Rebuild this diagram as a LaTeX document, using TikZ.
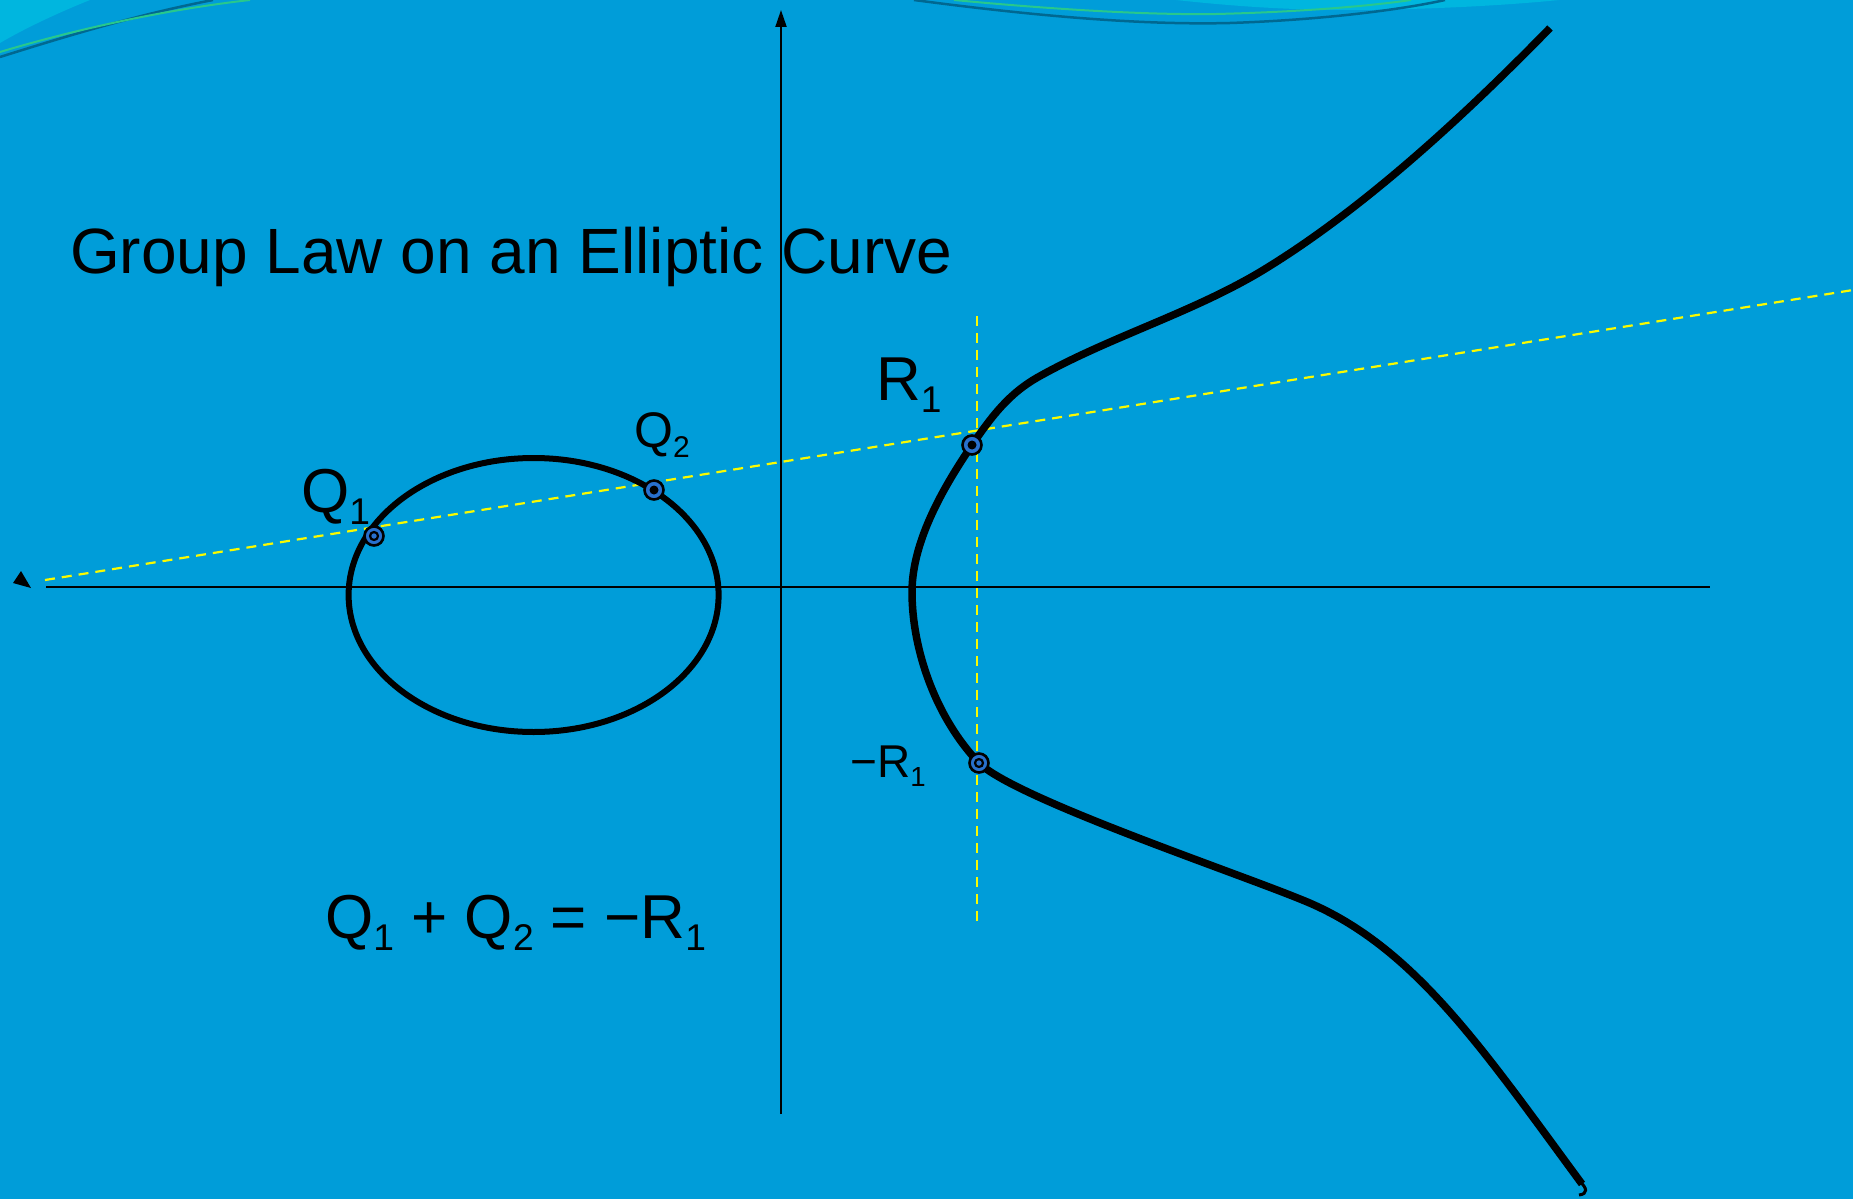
\documentclass[tikz,border=0pt]{standalone}
\usepackage{fontspec}
\setmainfont{Liberation Sans}
\usepackage{graphicx}
\usetikzlibrary{arrows.meta}
\definecolor{bgblue}{RGB}{0,157,217}
\definecolor{lightcyan}{RGB}{0,182,223}
\definecolor{darkteal}{RGB}{0,104,145}
\definecolor{greenline}{RGB}{40,200,140}
\definecolor{dashyellow}{RGB}{250,250,0}
\definecolor{ptblue}{RGB}{40,112,205}
\newcommand{\lsub}[1]{\raisebox{-0.2em}{\scalebox{0.6}{#1}}}
\tikzset{
  axisline/.style={draw=black, line width=2pt},
  curveline/.style={draw=black, line width=7.5pt},
  ovalline/.style={draw=black, line width=6pt},
  helpline/.style={draw=dashyellow, line width=2.2pt, dash pattern=on 10pt off 7pt},
  ptdot/.style={circle, minimum size=19pt, inner sep=0pt, fill=ptblue, draw=black, line width=2.6pt,
    path picture={\fill[black] (path picture bounding box.center) circle (4.5pt);}},
  ptring/.style={circle, minimum size=19pt, inner sep=0pt, fill=ptblue, draw=black, line width=2.6pt,
    path picture={\draw[black, line width=2.2pt] (path picture bounding box.center) circle (4pt);}},
  lbl/.style={anchor=base west, inner sep=0pt, text=black},
}
\begin{document}
\begin{tikzpicture}[x=1pt,y=-1pt]
\useasboundingbox (0,0) rectangle (1853,1199);
\fill[bgblue] (0,0) rectangle (1853,1199);
% top decoration
\fill[lightcyan] (0,0) -- (90,0) .. controls (55,14) and (22,30) .. (0,43) -- cycle;
\draw[darkteal, line width=2.5pt] (0,57) .. controls (70,35) and (140,14) .. (213,0);
\draw[greenline, line width=2pt] (0,52) .. controls (80,28) and (170,9) .. (250,0);
\fill[lightcyan] (1176,0) .. controls (1250,8) and (1300,10) .. (1357,10) .. controls (1450,9) and (1520,4) .. (1559,0) -- cycle;
\draw[darkteal, line width=2.5pt] (914,0) .. controls (1050,18) and (1150,25) .. (1230,23) .. controls (1320,20) and (1400,10) .. (1445,0);
\draw[greenline, line width=2pt] (954,0) .. controls (1060,10) and (1150,15) .. (1216,14) .. controls (1300,12) and (1370,6) .. (1411,0);

% title
\node[lbl, font=\fontsize{64pt}{70pt}\selectfont] (title) at (70,273) {Group Law on an Elliptic Curve};

% axes
\coordinate (yb) at (781,1114);
\coordinate (yt) at (781,10);
\coordinate (xl) at (46,587);
\coordinate (xr) at (1710,587);
\draw[axisline, -{Triangle[length=17pt,width=11pt]}] (yb) -- (yt);
\draw[axisline] (xl) -- (xr);
\fill[black] (13,583) -- (21,571) -- (31,588) -- cycle;

% helper lines
\coordinate (dl) at (45,580);
\coordinate (dr) at (1853,290);
\coordinate (vt) at (977,316);
\coordinate (vb) at (977,925);
\draw[helpline] (dl) -- (dr);
\draw[helpline] (vt) -- (vb);

% oval component
\draw[ovalline] (533.6,595) ellipse [x radius=185, y radius=137];

% right component
\draw[curveline] (1550,28)
  .. controls (1466,114) and (1363,210) .. (1260,272)
  .. controls (1191,313) and (1110,337) .. (1040,376)
  .. controls (1009,393) and (992,416) .. (972,445)
  .. controls (945,485) and (912,540) .. (912,592)
  .. controls (912,650) and (936,718) .. (979,763)
  .. controls (1015,798) and (1226,869) .. (1300,899)
  .. controls (1412,943) and (1481,1047) .. (1582,1184);
\draw[black, line width=3pt] (1578,1180) .. controls (1588,1188) and (1588,1194) .. (1579,1195);

% points
\node[ptring] (Q1) at (374,536) {};
\node[ptdot] (Q2) at (654,490) {};
\node[ptdot] (R1) at (972,445) {};
\node[ptring] (mR1) at (979,763) {};

% labels
\node[lbl, font=\fontsize{62pt}{68pt}\selectfont] (lQ1) at (301,512) {Q\lsub{1}};
\node[lbl, font=\fontsize{50pt}{56pt}\selectfont] (lQ2) at (634,447) {Q\lsub{2}};
\node[lbl, font=\fontsize{62pt}{68pt}\selectfont] (lR1) at (876,400) {R\lsub{1}};
\node[lbl, font=\fontsize{46pt}{52pt}\selectfont] (lmR1) at (850,777) {−R\lsub{1}};
\node[lbl, font=\fontsize{62pt}{68pt}\selectfont] (eq) at (325,938) {Q\lsub{1} + Q\lsub{2} = −R\lsub{1}};
\end{tikzpicture}
\end{document}
